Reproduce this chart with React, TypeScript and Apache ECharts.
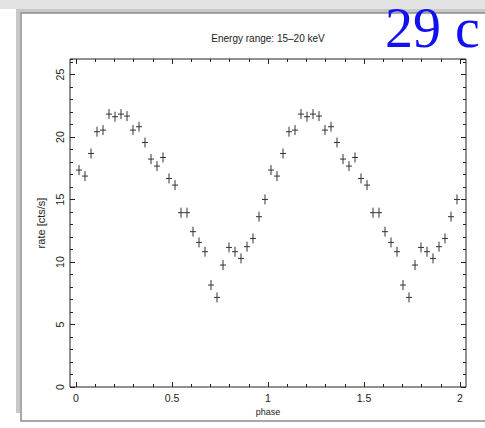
import React, { useEffect, useRef } from 'react';
import * as echarts from 'echarts';

// ---- data ----
const BINS_PER_CYCLE = 32;
const cycles = [0, 1];
const rate = [
  17.36, 16.88, 18.69, 20.43, 20.56, 21.84, 21.63, 21.84,
  21.68, 20.56, 20.83, 19.57, 18.24, 17.68, 18.37, 16.69,
  16.16, 13.95, 13.95, 12.43, 11.57, 10.83, 8.16, 7.17,
  9.76, 11.17, 10.83, 10.29, 11.23, 11.89, 13.63, 15.01,
];
const RATE_ERR = 0.4;
const X_MIN = 0;
const X_MAX = 2;
const X_MAJOR = 0.5;
const Y_MIN = 0;
const Y_MAX = 26.25;
const Y_MAJOR = 5;
const Y_MINOR = 1;
const TITLE = 'Energy range: 15–20 keV';
const X_NAME = 'phase';
const Y_NAME = 'rate [cts/s]';
const SLIDE_TEXT = '29 c';

const INK = '#222';
const FONT = '"Liberation Sans", Arial, sans-serif';

export default function App() {
  const ref = useRef<HTMLDivElement>(null);

  useEffect(() => {
    if (!ref.current) return;
    const chart = echarts.init(ref.current, null, { renderer: 'svg' });
    const halfBin = 0.5 / BINS_PER_CYCLE;
    const points = cycles.flatMap((c) =>
      rate.map((r, i) => [c + (i + 0.5) / BINS_PER_CYCLE, r])
    );

    const tickStyle = { color: INK, width: 1 };

    const option: any = {
      animation: false,
      backgroundColor: '#fff',
      grid: [
        // data grid: x from 0..2 maps exactly onto the phase ticks
        { left: 76, right: 25, top: 59, bottom: 41, show: false },
        // frame grid: the full box, with the y axes
        {
          left: 70, right: 19, top: 59, bottom: 41, show: true,
          borderColor: INK, borderWidth: 1, backgroundColor: 'transparent',
        },
      ],
      xAxis: [
        {
          gridIndex: 0, type: 'value', min: X_MIN, max: X_MAX, interval: X_MAJOR,
          position: 'bottom',
          axisLine: { show: false },
          axisTick: { show: true, inside: true, length: 5, lineStyle: tickStyle },
          minorTick: { show: true, splitNumber: 5, length: 3, lineStyle: tickStyle },
          splitLine: { show: false },
          axisLabel: { show: true, fontSize: 10.5, color: INK, fontFamily: FONT, margin: 5 },
          name: X_NAME, nameLocation: 'middle', nameGap: 18,
          nameTextStyle: { fontSize: 9, color: INK, fontFamily: FONT },
        },
        {
          gridIndex: 0, type: 'value', min: X_MIN, max: X_MAX, interval: X_MAJOR,
          position: 'top',
          axisLine: { show: false },
          axisTick: { show: true, inside: true, length: 5, lineStyle: tickStyle },
          minorTick: { show: true, splitNumber: 5, length: 3, lineStyle: tickStyle },
          splitLine: { show: false },
          axisLabel: { show: false },
        },
        { gridIndex: 1, type: 'value', min: 0, max: 1, show: false },
      ],
      yAxis: [
        { gridIndex: 0, type: 'value', min: Y_MIN, max: Y_MAX, show: false },
        {
          gridIndex: 1, type: 'value', min: Y_MIN, max: Y_MAX, interval: Y_MAJOR,
          position: 'left',
          axisLine: { show: false },
          axisTick: { show: true, inside: true, length: 5, lineStyle: tickStyle },
          splitLine: { show: false },
          axisLabel: {
            show: true, rotate: 90, fontSize: 10.5, color: INK, fontFamily: FONT,
            margin: 5, showMaxLabel: false,
          },
          name: Y_NAME, nameLocation: 'middle', nameGap: 24, nameRotate: 90,
          nameTextStyle: { fontSize: 11, color: INK, fontFamily: FONT },
        },
        {
          gridIndex: 1, type: 'value', min: Y_MIN, max: Y_MAX, interval: Y_MINOR,
          position: 'left',
          axisLine: { show: false },
          axisTick: { show: true, inside: true, length: 3, lineStyle: tickStyle },
          splitLine: { show: false },
          axisLabel: { show: false },
        },
        {
          gridIndex: 1, type: 'value', min: Y_MIN, max: Y_MAX, interval: Y_MAJOR,
          position: 'right',
          axisLine: { show: false },
          axisTick: { show: true, inside: true, length: 5, lineStyle: tickStyle },
          splitLine: { show: false },
          axisLabel: { show: false },
        },
        {
          gridIndex: 1, type: 'value', min: Y_MIN, max: Y_MAX, interval: Y_MINOR,
          position: 'right',
          axisLine: { show: false },
          axisTick: { show: true, inside: true, length: 3, lineStyle: tickStyle },
          splitLine: { show: false },
          axisLabel: { show: false },
        },
      ],
      series: [
        {
          type: 'custom',
          xAxisIndex: 0,
          yAxisIndex: 0,
          data: points,
          renderItem: (params: any, api: any) => {
            const x = api.value(0);
            const y = api.value(1);
            const l = api.coord([x - halfBin, y]);
            const r = api.coord([x + halfBin, y]);
            const t = api.coord([x, y + RATE_ERR]);
            const b = api.coord([x, y - RATE_ERR]);
            const style = { stroke: '#333', lineWidth: 1, fill: null };
            return {
              type: 'group',
              children: [
                { type: 'line', shape: { x1: l[0], y1: l[1], x2: r[0], y2: r[1] }, style },
                { type: 'line', shape: { x1: t[0], y1: t[1], x2: b[0], y2: b[1] }, style },
              ],
            };
          },
        },
      ],
      graphic: [
        { type: 'rect', shape: { x: 0, y: 0, width: 485, height: 9 }, style: { fill: '#e3e3e3' } },
        { type: 'rect', shape: { x: 16, y: 9, width: 469, height: 4 }, style: { fill: '#c8c8c8' } },
        { type: 'rect', shape: { x: 16, y: 9, width: 4, height: 404 }, style: { fill: '#c8c8c8' } },
        {
          type: 'polyline',
          shape: { points: [[485, 13], [21, 13], [21, 421], [485, 421]] },
          style: { stroke: '#8c8c8c', lineWidth: 1.5, fill: null },
        },
        {
          type: 'text', x: 268, y: 38,
          style: {
            text: TITLE, fontSize: 10, fontFamily: FONT, fill: INK,
            align: 'center', verticalAlign: 'middle',
          },
        },
        {
          type: 'text', x: 385, y: 27.5,
          style: {
            text: SLIDE_TEXT, fontSize: 56, fontFamily: '"Liberation Serif", "Times New Roman", serif',
            fill: '#1010f0', align: 'left', verticalAlign: 'middle',
          },
        },
      ],
    };

    chart.setOption(option);
    return () => chart.dispose();
  }, []);

  return (
    <div
      ref={ref}
      style={{ position: 'fixed', left: 0, top: 0, width: 485, height: 428, background: '#fff' }}
    />
  );
}
